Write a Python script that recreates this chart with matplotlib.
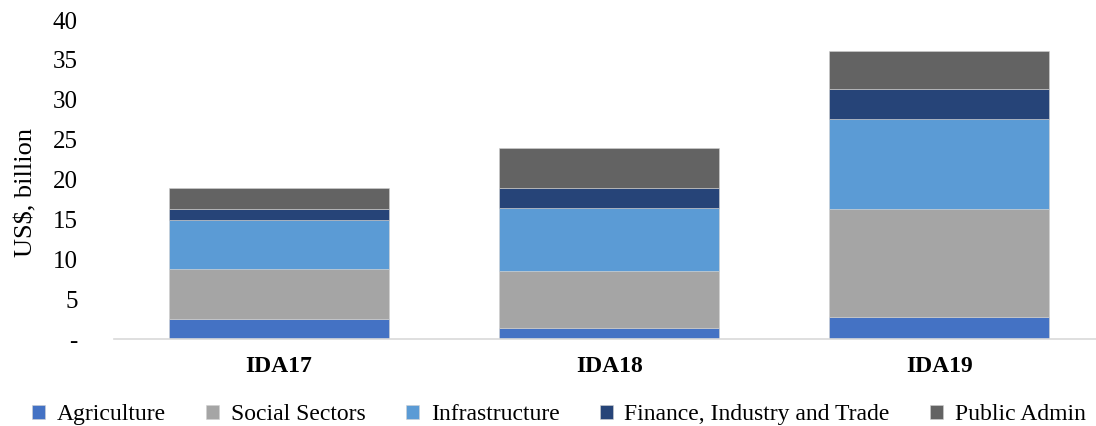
import numpy as np
import matplotlib.pyplot as plt

# IDA replenishment commitments by sector (US$ billion)
rounds = ["IDA17", "IDA18", "IDA19"]
sectors = ["Agriculture", "Social Sectors", "Infrastructure",
           "Finance, Industry and Trade", "Public Admin"]
agriculture = [2.5, 1.4, 2.8]
social = [6.25, 7.1, 13.45]
infrastructure = [6.15, 7.9, 11.35]
finance = [1.35, 2.5, 3.8]
public_admin = [2.65, 5.0, 4.7]

colors = ["#4472C4", "#A5A5A5", "#5B9BD5", "#264478", "#636363"]

plt.rcParams['font.family'] = ['Liberation Serif', 'DejaVu Serif']

fig = plt.figure(figsize=(10.96, 4.26), dpi=100)
ax = fig.add_axes([0.104, 0.204, 0.896, 0.749])

x = np.arange(len(rounds))
bottom = np.zeros(len(rounds))
for name, vals, c in zip(sectors, [agriculture, social, infrastructure, finance, public_admin], colors):
    ax.bar(x, vals, width=0.667, bottom=bottom, color=c, label=name,
           edgecolor="#d0d0d0", linewidth=0.4)
    bottom += np.array(vals)

ax.set_xlim(-0.5, 2.475)
ax.set_ylim(0, 40)
ax.set_yticks(range(0, 41, 5))
ax.set_yticklabels(["-"] + [str(v) for v in range(5, 41, 5)], fontsize=18)
ax.set_xticks(x)
ax.set_xticklabels(rounds, fontsize=17, fontweight='bold')
ax.tick_params(axis='both', length=0)
ax.tick_params(axis='x', pad=12)
ax.tick_params(axis='y', pad=26)
ax.set_ylabel("US$, billion", fontsize=19)
ax.yaxis.set_label_coords(-0.078, 0.46)

for s in ["top", "right", "left"]:
    ax.spines[s].set_visible(False)
ax.spines["bottom"].set_color("#d9d9d9")
ax.spines["bottom"].set_linewidth(1.2)

fig.legend(loc="center", bbox_to_anchor=(0.51, 0.026), ncol=5, frameon=False,
           fontsize=17, handlelength=0.55, handleheight=0.55, handletextpad=0.5,
           columnspacing=1.7)

fig.savefig("out.png", dpi=100)
